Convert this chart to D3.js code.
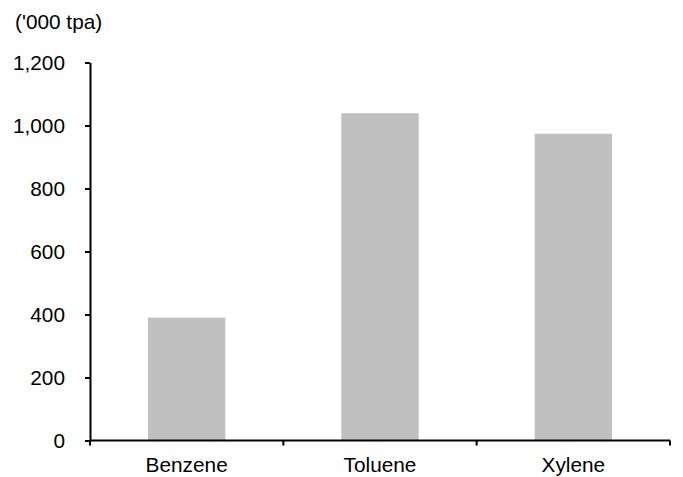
<!DOCTYPE html>
<html><head><meta charset="utf-8">
<script src="https://cdn.jsdelivr.net/npm/d3@7"></script>
<style>body{margin:0;background:#fff}text{font-family:"Liberation Sans",Arial,sans-serif}</style>
</head><body>
<svg id="c" width="683" height="477"></svg>
<script>
const categories = ["Benzene", "Toluene", "Xylene"];
const values = [390, 1039, 974];
const yTicks = [0, 200, 400, 600, 800, 1000, 1200];
const unitLabel = "('000 tpa)";

const svg = d3.select("#c");
const m = {left: 90, right: 13, top: 62.5, bottom: 36.5};
const W = 683, H = 477;
const FS = 20.8;
const x = d3.scaleBand().domain(categories).range([m.left, W - m.right]).paddingInner(0.6).paddingOuter(0.3);
const y = d3.scaleLinear().domain([0, 1200]).range([H - m.bottom, m.top]);

svg.selectAll("rect.bar").data(values).join("rect")
  .attr("class", "bar")
  .attr("x", (d, i) => x(categories[i]))
  .attr("width", x.bandwidth())
  .attr("y", d => y(d))
  .attr("height", d => y(0) - y(d))
  .attr("fill", "#c0c0c0");

const fmt = d3.format(",");
const ya = svg.append("g").attr("transform", `translate(${m.left},0)`)
  .call(d3.axisLeft(y).tickValues(yTicks).tickFormat(fmt).tickSize(5).tickSizeOuter(0).tickPadding(20));
ya.select(".domain").attr("stroke", "#000").attr("stroke-width", 2);
ya.selectAll(".tick line").attr("stroke", "#000").attr("stroke-width", 2);
ya.selectAll("text").attr("font-size", FS).attr("fill", "#000").attr("font-family", "Liberation Sans, Arial, sans-serif");

// x axis with ticks at category boundaries
const xa = svg.append("g").attr("transform", `translate(0,${y(0)})`);
xa.append("line").attr("x1", m.left).attr("x2", W - m.right).attr("stroke", "#000").attr("stroke-width", 2);
const bpos = d3.range(categories.length + 1).map(i => m.left + i * (W - m.right - m.left) / categories.length);
xa.selectAll("line.t").data(bpos).join("line").attr("class", "t")
  .attr("x1", d => d).attr("x2", d => d).attr("y1", 0).attr("y2", 5)
  .attr("stroke", "#000").attr("stroke-width", 2);
xa.selectAll("text").data(categories).join("text")
  .attr("x", d => x(d) + x.bandwidth() / 2).attr("y", 31.5)
  .attr("text-anchor", "middle").attr("font-size", FS).attr("fill", "#000").text(d => d);

svg.append("text").attr("x", 15).attr("y", 29).attr("font-size", FS).attr("fill", "#000").text(unitLabel);
</script>
</body></html>
